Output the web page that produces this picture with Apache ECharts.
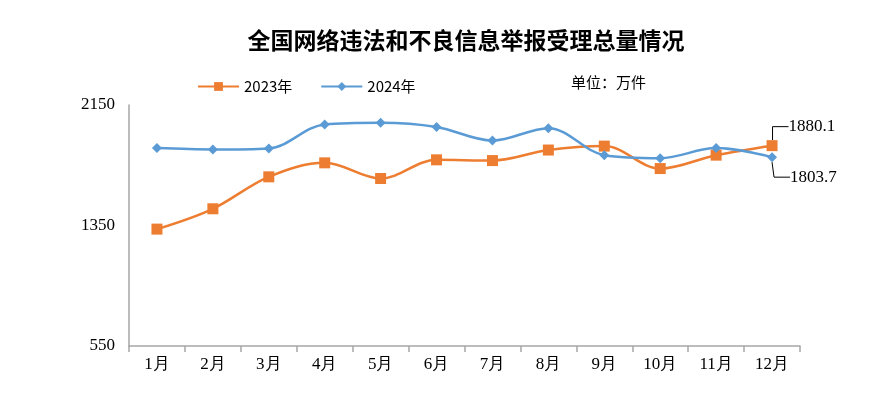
<!DOCTYPE html>
<html><head><meta charset="utf-8">
<script src="https://cdn.jsdelivr.net/npm/echarts@6/dist/echarts.min.js"></script>
<style>html,body{margin:0;padding:0;background:#fff}#c{width:896px;height:404px}</style>
</head><body><div id="c"></div>
<script>
var categories = ['1月','2月','3月','4月','5月','6月','7月','8月','9月','10月','11月','12月'];
var series2023 = [1326, 1461, 1673, 1766, 1662, 1786, 1781, 1851, 1877, 1728, 1817, 1880.1];
var series2024 = [1864, 1855, 1862, 2021, 2032, 2004, 1914, 1996, 1817, 1797, 1864, 1803.7];
var yTicks = [550, 1350, 2150];
var titleText = '全国网络违法和不良信息举报受理总量情况';
var unitText = '单位：万件';

var serif = '"Liberation Serif","Times New Roman",serif';
var sans = '"Noto Sans CJK SC","Noto Sans",sans-serif';

function lastLabel(arr) {
  return arr.map(function (v, i) {
    if (i !== arr.length - 1) return v;
    return {
      value: v,
      label: { show: true, position: 'right', formatter: function (p) { return p.value; } },
      labelLine: { show: true, length2: 16, smooth: false, minTurnAngle: 0,
        lineStyle: { color: '#000', width: 1 } }
    };
  });
}

var chart = echarts.init(document.getElementById('c'), null, { renderer: 'canvas' });
chart.setOption({
  animation: false,
  backgroundColor: '#fff',
  title: {
    text: titleText, left: 461, top: 24, textAlign: 'center',
    textStyle: { fontFamily: sans, fontSize: 23, fontWeight: 'bold', color: '#000' }
  },
  legend: {
    left: 192, top: 74, itemWidth: 41, itemHeight: 11, itemGap: 28,
    textStyle: { fontFamily: sans, fontSize: 15, color: '#000' },
    data: ['2023年', '2024年']
  },
  graphic: [{
    type: 'text', left: 571, top: 75,
    style: { text: unitText, font: '15px ' + sans, fill: '#000' }
  }],
  grid: { left: 129, right: 96, top: 105, bottom: 58 },
  xAxis: {
    type: 'category', data: categories, boundaryGap: true,
    axisLine: { lineStyle: { color: '#a6a6a6', width: 1.5 } },
    axisTick: { show: true, length: 6, lineStyle: { color: '#a6a6a6', width: 1.5 } },
    axisLabel: { fontFamily: serif, fontSize: 17, color: '#000', margin: 10 }
  },
  yAxis: {
    type: 'value', min: 550, max: 2150,
    axisLine: { show: true, lineStyle: { color: '#a6a6a6', width: 1.5 } },
    axisTick: { show: false },
    splitLine: { show: false },
    axisLabel: { customValues: yTicks, formatter: function (v) { return String(v); },
      fontFamily: serif, fontSize: 17, color: '#000', margin: 14 }
  },
  series: [{
    name: '2023年', type: 'line', smooth: 0.35,
    data: lastLabel(series2023),
    symbol: 'rect', symbolSize: 11,
    itemStyle: { color: '#ED7D31' },
    lineStyle: { color: '#ED7D31', width: 2.5 },
    label: { fontFamily: serif, fontSize: 17, color: '#000' },
    labelLayout: { dx: 6, dy: -19 }
  }, {
    name: '2024年', type: 'line', smooth: 0.35,
    data: lastLabel(series2024),
    symbol: 'diamond', symbolSize: 10,
    itemStyle: { color: '#5B9BD5' },
    lineStyle: { color: '#5B9BD5', width: 2.5 },
    label: { fontFamily: serif, fontSize: 17, color: '#000' },
    labelLayout: { dx: 8, dy: 20 }
  }]
});
</script></body></html>
